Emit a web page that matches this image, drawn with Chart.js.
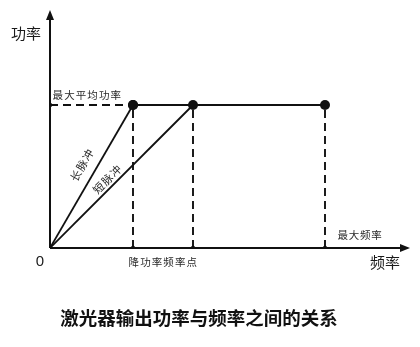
<!DOCTYPE html>
<html>
<head>
<meta charset="utf-8">
<script src="https://cdn.jsdelivr.net/npm/chart.js@4"></script>
<style>
  html, body { margin: 0; padding: 0; background: #ffffff; }
  #wrap { width: 420px; height: 347px; position: relative; }
</style>
</head>
<body>
<div id="wrap"><canvas id="chart" width="420" height="347"></canvas></div>
<script>
// values (abstract units, origin = 0)
const axisMax = { x: 360, y: 238 }
const maxAvgPower = 143
const derateFreqs = [83, 143]      // long pulse, short pulse
const maxFreq = 275
const pulseNames = ["长脉冲", "短脉冲"]
const axisTitles = { x: "频率", y: "功率" }
const xTickLabels = ["0", "降功率频率点", "最大频率"]
const yTickLabel = "最大平均功率"
const chartTitle = "激光器输出功率与频率之间的关系"

const ink = "#111111"
const dash = [8, 5]

const lineSet = (points, radii, dashed) => ({
  data: points,
  showLine: true,
  borderColor: ink,
  backgroundColor: ink,
  borderWidth: dashed ? 1.9 : 1.8,
  borderDash: dashed ? dash : [],
  pointRadius: radii,
  pointHoverRadius: radii,
  pointBorderWidth: 0,
  fill: false
})

const datasets = [
  lineSet([{ x: 0, y: 0 }, { x: derateFreqs[0], y: maxAvgPower }], [0, 5], false),
  lineSet([{ x: 0, y: 0 }, { x: derateFreqs[1], y: maxAvgPower }], [0, 5], false),
  lineSet([{ x: derateFreqs[0], y: maxAvgPower }, { x: maxFreq, y: maxAvgPower }], [5, 5], false),
  lineSet([{ x: 0, y: maxAvgPower }, { x: derateFreqs[0], y: maxAvgPower }], [2.2, 0], true),
  ...[...derateFreqs, maxFreq].map((f) => lineSet([{ x: f, y: 0 }, { x: f, y: maxAvgPower }], [2.2, 0], true))
]

const cjk = '"Noto Sans CJK SC", "Noto Sans", sans-serif'

function spacedText(ctx, text, x, y, step) {
  // draw char by char, x is the left edge
  for (let i = 0; i < text.length; i++) {
    ctx.fillText(text[i], x + i * step + step / 2, y)
  }
}

const annotations = {
  id: "annotations",
  afterDatasetsDraw(chart) {
    const { ctx, scales } = chart
    const xs = scales.x, ys = scales.y
    const x0 = xs.getPixelForValue(0), y0 = ys.getPixelForValue(0)
    const xEnd = xs.getPixelForValue(axisMax.x), yEnd = ys.getPixelForValue(axisMax.y)

    ctx.save()
    ctx.strokeStyle = ink
    ctx.fillStyle = ink
    ctx.lineWidth = 2

    // axes
    ctx.beginPath()
    ctx.moveTo(x0, y0); ctx.lineTo(xEnd - 6, y0)
    ctx.moveTo(x0, y0); ctx.lineTo(x0, yEnd + 6)
    ctx.stroke()
    ctx.beginPath()
    ctx.moveTo(xEnd, y0); ctx.lineTo(xEnd - 10, y0 - 4); ctx.lineTo(xEnd - 10, y0 + 4); ctx.closePath()
    ctx.moveTo(x0, yEnd); ctx.lineTo(x0 - 4, yEnd + 10); ctx.lineTo(x0 + 4, yEnd + 10); ctx.closePath()
    ctx.fill()

    ctx.textAlign = "center"
    ctx.textBaseline = "middle"

    // axis titles and origin
    ctx.fillStyle = "#1a1a1a"
    ctx.font = `15px ${cjk}`
    ctx.fillText(axisTitles.y, x0 - 24, yEnd + 23)
    ctx.fillText(axisTitles.x, xEnd - 25, y0 + 14)
    ctx.font = '15px "Liberation Sans", Arial, sans-serif'
    ctx.fillText(xTickLabels[0], x0 - 10, y0 + 14)

    // small labels
    ctx.fillStyle = "#2a2a2a"
    ctx.font = `10.5px ${cjk}`
    spacedText(ctx, yTickLabel, x0 + 2, ys.getPixelForValue(maxAvgPower) - 10, 11.6)
    const mid = xs.getPixelForValue(derateFreqs[0]) + (xs.getPixelForValue(derateFreqs[1]) - xs.getPixelForValue(derateFreqs[0])) / 2
    spacedText(ctx, xTickLabels[1], mid - 35, y0 + 14, 11.6)
    spacedText(ctx, xTickLabels[2], xs.getPixelForValue(maxFreq) + 12, y0 - 13, 11.3)

    // pulse names along their lines
    ctx.font = `11px ${cjk}`
    const offsets = [{ t: 0.53, d: 14 }, { t: 0.44, d: 8 }]
    derateFreqs.forEach((f, i) => {
      const x1 = xs.getPixelForValue(f), y1 = ys.getPixelForValue(maxAvgPower)
      const dx = x1 - x0, dy = y1 - y0
      const len = Math.hypot(dx, dy)
      const ux = dx / len, uy = dy / len
      const nx = uy, ny = -ux
      const cx = x0 + dx * offsets[i].t + nx * offsets[i].d
      const cy = y0 + dy * offsets[i].t + ny * offsets[i].d
      ctx.save()
      ctx.translate(cx, cy)
      ctx.rotate(Math.atan2(dy, dx))
      spacedText(ctx, pulseNames[i], -18, 0, 12)
      ctx.restore()
    })

    // title
    ctx.fillStyle = "#111111"
    ctx.font = `bold 18.5px ${cjk}`
    ctx.fillText(chartTitle, 199, 318)
    ctx.restore()
  }
}

new Chart(document.getElementById("chart"), {
  type: "scatter",
  data: { datasets },
  options: {
    responsive: false,
    animation: false,
    events: [],
    layout: { padding: { left: 50, top: 10, right: 10, bottom: 99 } },
    scales: {
      x: { type: "linear", display: false, min: 0, max: axisMax.x },
      y: { type: "linear", display: false, min: 0, max: axisMax.y }
    },
    plugins: {
      legend: { display: false },
      tooltip: { enabled: false },
      title: { display: false }
    }
  },
  plugins: [annotations]
})
</script>
</body>
</html>
